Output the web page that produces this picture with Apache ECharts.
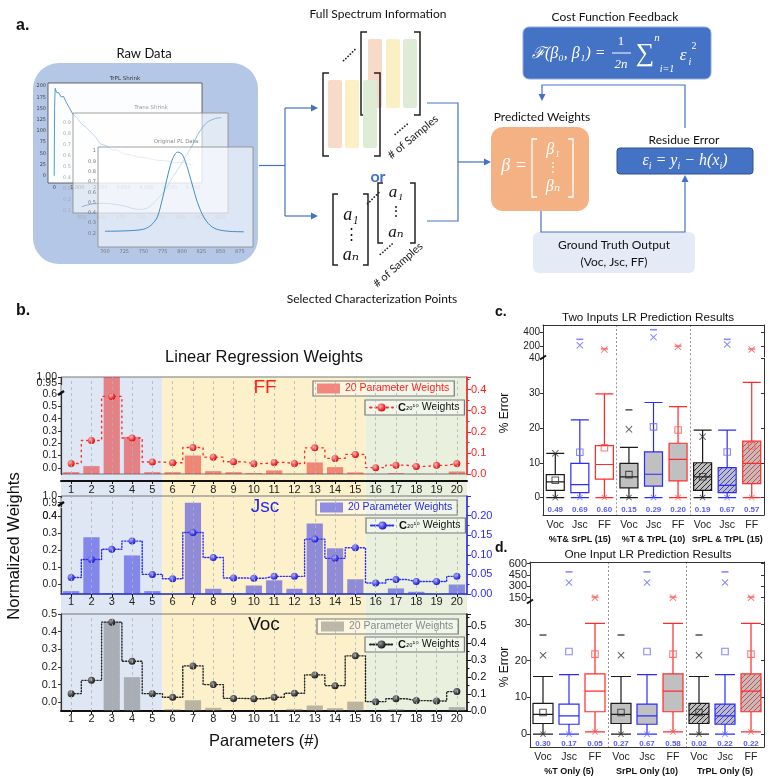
<!DOCTYPE html>
<html>
<head>
<meta charset="utf-8">
<script src="https://cdn.jsdelivr.net/npm/echarts@6.0.0/dist/echarts.min.js"></script>
<style>
html,body{margin:0;padding:0;background:#ffffff;}
#chart{width:770px;height:784px;}
</style>
</head>
<body>
<div id="chart"></div>
<script>
// ================= DATA =================
// ---- panel b : linear regression weights ----
const params = ['1','2','3','4','5','6','7','8','9','10','11','12','13','14','15','16','17','18','19','20'];
const ffBars  = [-0.035, 0.014, 1.000, 0.252, -0.035, -0.035, 0.100, -0.027, -0.035, -0.043, -0.021, -0.049, 0.044, 0.006, -0.037, -0.050, -0.043, -0.049, -0.050, -0.030];
const ffDots  = [0.050, 0.159, 0.368, 0.171, 0.057, 0.053, 0.126, 0.080, 0.058, 0.049, 0.055, 0.050, 0.124, 0.074, 0.093, 0.030, 0.042, 0.036, 0.041, 0.050];
const jscBars = [-0.041, 0.277, -0.053, 0.170, -0.041, -0.058, 0.900, -0.027, -0.055, -0.008, 0.023, -0.027, 0.358, 0.212, 0.029, -0.058, -0.025, -0.045, -0.058, -0.002];
const jscDots = [0.042, 0.088, 0.114, 0.135, 0.050, 0.039, 0.157, 0.093, 0.041, 0.040, 0.045, 0.045, 0.140, 0.091, 0.118, 0.028, 0.037, 0.032, 0.032, 0.045];
const vocBars = [-0.050, -0.050, 0.458, 0.142, -0.050, -0.040, 0.011, -0.032, -0.050, -0.050, -0.050, -0.038, -0.019, -0.034, 0.003, -0.050, -0.040, -0.050, -0.050, -0.028];
const vocDots = [0.102, 0.180, 0.522, 0.292, 0.102, 0.081, 0.265, 0.155, 0.074, 0.072, 0.081, 0.104, 0.212, 0.149, 0.324, 0.055, 0.072, 0.061, 0.059, 0.114];
const ffLeftTicks  = [0, 0.1, 0.2, 0.3, 0.4, 0.5, 0.6, 0.95, 1.0];
const ffLabelsA    = [0, 0.1, 0.2, 0.3, 0.4, 0.5, 0.6, 1.0];
const ffLabelsB    = [0.95];
const jscLeftTicks = [0, 0.1, 0.2, 0.3, 0.4, 0.9, 1.0];
const jscLabelsA   = [0, 0.1, 0.2, 0.3, 0.4];
const jscLabelsB   = [0.9];
const jscLabelsC   = [1.0];
const jscNearBreak = 0.4;
const vocLeftTicks = [0, 0.1, 0.2, 0.3, 0.4, 0.5];

// ---- panels c / d : box plots of % error ----
const boxCats = ['Voc','Jsc','FF','Voc','Jsc','FF','Voc','Jsc','FF'];
const cGroups = ['%T& SrPL (15)', '%T & TrPL (10)', 'SrPL & TrPL (15)'];
const dGroups = ['%T Only (5)', 'SrPL Only (10)', 'TrPL Only (5)'];
// [min, Q1, median, Q3, max]
const cBoxes = [[0,2.1,4.5,6.6,12.7],[0,1.45,3.75,9.8,22.3],[0,5.3,9.5,14.9,29.8],
                [0,2.8,5.95,9.8,14.4],[0,3.3,6.7,13.1,27.3],[0,4.8,10.95,15.6,26.1],
                [0,2.1,5.95,10.0,19.4],[0,1.45,3.5,8.6,19.4],[0,4.0,9.8,16.2,33.1]];
const cMeans = [5.0, 13.0, 14.3, 6.6, 20.3, 19.4, 6.0, 13.1, 14.9];
const cCross = [12.7, 213, 150, 19.6, 330, 190, 17.5, 225, 150];
const cDash  = [null, 300, 160, 25.2, 440, 200, null, 300, 158];
const cP     = ['0.49','0.69','0.60','0.15','0.29','0.20','0.19','0.67','0.57'];
const cUpperTicks = [200, 400];
const cLowerTicks = [0, 10, 20, 30, 40];

const dBoxes = [[0,2.9,5.4,8.4,15.7],[0,2.7,5.0,8.2,16.2],[0.6,6.1,11.7,16.4,30.2],
                [0,2.9,5.4,8.4,15.7],[0,2.7,5.0,8.2,16.2],[0.6,6.1,11.7,16.4,30.2],
                [0,2.9,5.4,8.4,15.7],[0,2.7,5.0,8.2,16.2],[0.6,6.1,11.7,16.4,30.2]];
const dMeans = [5.9, 22.5, 21.8, 5.9, 22.5, 21.8, 5.9, 22.5, 21.8];
const dCross = [21.5, 350, 150, 21.5, 350, 150, 21.5, 350, 150];
const dDash  = [27.0, 490, 158, 27.0, 490, 158, 27.0, 490, 158];
const dP     = ['0.30','0.17','0.05','0.27','0.67','0.58','0.02','0.22','0.22'];
const dUpperTicks = [150, 300, 450, 600];
const dLowerTicks = [0, 10, 20, 30];

// ---- panel a : raw data thumbnails ----
const trplT = [0, 15, 40, 100, 200, 300, 400, 500, 650, 800, 1000, 1200, 1400, 1600, 1800, 2000, 2250, 2500, 2750, 3000, 3300, 3600, 4000, 4400, 4800, 5200, 5600, 6000];
const trplV = [0, 150, 195, 186, 185, 176, 177, 166, 152, 138, 128, 115, 107, 97, 86, 71, 67, 58, 57, 49, 47, 42, 40, 35, 34, 29, 30, 24];
const transW = [550, 596, 646, 697, 739, 781, 823, 857, 882, 903];
const transV = [0.139, 0.169, 0.154, 0.115, 0.199, 0.41, 0.65, 0.86, 0.927, 0.942];
const plW = [700, 730, 750, 760, 768, 775, 782, 788, 794, 800, 806, 813, 820, 828, 836, 845, 860, 880];
const plV = [0.22, 0.225, 0.24, 0.28, 0.36, 0.55, 0.78, 0.93, 0.99, 0.97, 0.86, 0.68, 0.5, 0.36, 0.28, 0.24, 0.22, 0.215];
const trplTicksX = [0, 1000, 2000, 3000, 4000, 5000, 6000];
const trplTicksY = [0, 25, 50, 75, 100, 125, 150, 175, 200];
const transTicksX = [550, 600, 650, 700, 750, 800, 850, 900];
const transTicksY = [0.1, 0.2, 0.3, 0.4, 0.5, 0.6, 0.7, 0.8, 0.9];
const plTicksX = [700, 725, 750, 775, 800, 825, 850, 875];
const plTicksY = [0.2, 0.3, 0.4, 0.5, 0.6, 0.7, 0.8, 0.9, 1.0];

// ================= STYLE =================
const DF = "Lato, 'Open Sans', 'Noto Sans', sans-serif";
const SF = "'Liberation Sans', Arial, 'DejaVu Sans', sans-serif";
const MF = "'Liberation Serif', 'DejaVu Serif', serif";
const MP = "'DejaVu Sans', sans-serif";
const FF_MIN = -0.05, JSC_MIN = -0.058, VOC_MIN = -0.05;
const catColor  = ['#1a1a1a', '#2b2bff', '#ff2b2b'];
const markColor = ['#333333', '#6b6bff', '#ff5a5a'];
const XPATH = 'path://M0,1L1,0L5,4L9,0L10,1L6,5L10,9L9,10L5,6L1,10L0,9L4,5Z';

function ball(c1, c2) {
  return {type:'radial', x:0.35, y:0.35, r:0.7, colorStops:[{offset:0, color:c1}, {offset:1, color:c2}]};
}
function hatch(col) {
  const cv = document.createElement('canvas'); cv.width = 5; cv.height = 5;
  const g = cv.getContext('2d');
  g.fillStyle = '#bdbdbd'; g.fillRect(0, 0, 5, 5);
  g.strokeStyle = col; g.lineWidth = 0.9;
  g.beginPath(); g.moveTo(0,5); g.lineTo(5,0); g.moveTo(-1,1); g.lineTo(1,-1); g.moveTo(4,6); g.lineTo(6,4); g.stroke();
  return {image: cv, repeat: 'repeat'};
}
function barItem(base) {
  return function (p, api) {
    const i = api.value(0), v = api.value(1);
    const p1 = api.coord([i, v]), p0 = api.coord([i, base]);
    const w = api.size([1, 0])[0] * 0.8;
    return {type:'rect', shape:{x:p1[0]-w/2, y:Math.min(p0[1],p1[1]), width:w, height:Math.abs(p0[1]-p1[1])}, style: api.style()};
  };
}
function vlines() {
  return {silent:true, symbol:['none','none'], label:{show:false}, animation:false,
    lineStyle:{type:[3,3], color:'#b3b3b3', width:0.8}, data: params.map(p => ({xAxis: p}))};
}
function boxItems(boxes) {
  return boxes.map((b, i) => {
    const c = catColor[i % 3], grp = Math.floor(i / 3);
    const fill = grp === 0 ? '#ffffff' : (grp === 1 ? '#c0c0c0' : hatch(c));
    return {value: b, itemStyle: {color: fill, borderColor: c, borderWidth: 1.2}};
  });
}
function markItems(vals, lo, hi, kind) {
  const out = [];
  vals.forEach((v, i) => {
    if (v == null || v < lo || v > hi) return;
    const c = markColor[i % 3];
    const st = kind === 'mean' ? {color:'rgba(255,255,255,0)', borderColor:c, borderWidth:1.1} : {color:c};
    out.push({value:[i, v], itemStyle: st});
  });
  return out;
}

// ---- axes helpers ----
function leftAxis(grid, min, max, ticks, labels, fmt, extra, fs) {
  return Object.assign({gridIndex:grid, type:'value', min:min, max:max,
    axisLine:{show:true, onZero:false, lineStyle:{color:'#333', width:1.2}},
    axisTick:{show:true, length:3, customValues:ticks, lineStyle:{color:'#333'}},
    axisLabel:{customValues:labels, formatter:fmt, fontSize:fs || 11, color:'#222', margin:4, fontFamily:SF,
      hideOverlap:false, showMaxLabel:true, showMinLabel:true},
    splitLine:{show:false}}, extra || {});
}
// label-only overlay axis (same scale as the main left axis)
function labelAxis(grid, min, max, labels, fmt, extra, fs) {
  return Object.assign({gridIndex:grid, type:'value', min:min, max:max, position:'left',
    axisLine:{show:false, onZero:false}, axisTick:{show:false},
    axisLabel:{customValues:labels, formatter:fmt, fontSize:fs || 11, color:'#222', margin:4, fontFamily:SF, showMaxLabel:true, showMinLabel:true},
    splitLine:{show:false}}, extra || {});
}
function rightAxis(grid, max, interval, color, fmt) {
  return {gridIndex:grid, type:'value', position:'right', min:0, max:max, interval:interval,
    axisLine:{show:true, onZero:false, lineStyle:{color:color, width:1.5}},
    axisTick:{show:true, length:4, lineStyle:{color:color}},
    minorTick:{show:true, splitNumber:2, length:2.5, lineStyle:{color:color}},
    axisLabel:{formatter:fmt, fontSize:11, color:color, margin:4, showMaxLabel:false, fontFamily:SF},
    splitLine:{show:false}, minorSplitLine:{show:false}};
}
function catAxisB(grid, lineColor, lineW, offset, margin) {
  return {gridIndex:grid, type:'category', data:params, boundaryGap:true, offset:offset,
    axisLine:{show:true, onZero:false, lineStyle:{color:lineColor, width:lineW}},
    axisTick:{show:true, alignWithLabel:true, length:3, lineStyle:{color:'#111'}},
    axisLabel:{fontSize:11, color:'#222', margin:margin, interval:0, fontFamily:SF},
    splitLine:{show:false}};
}
const sepLine = {show:true, interval:(i) => i === 3 || i === 6, lineStyle:{type:[2,2], color:'#8a8a8a', width:0.9}};
function boxXAxis(grid, groups, withLabels) {
  const ax = {gridIndex:grid, type:'category', data:boxCats, boundaryGap:true,
    position: withLabels ? 'bottom' : 'top',
    axisLine:{show:true, onZero:false, lineStyle:{color:'#333', width:1}},
    axisTick:{show:false}, splitLine:sepLine};
  if (withLabels) {
    ax.axisLabel = {interval:0, fontSize:10.5, color:'#222', margin:4, lineHeight:13, fontFamily:SF,
      formatter:(v, i) => (i % 3 === 1) ? v + '\n{g|' + groups[(i - 1) / 3] + '}' : v,
      rich:{g:{fontWeight:'bold', fontSize:9, lineHeight:15, color:'#111', fontFamily:SF}}};
  } else {
    ax.axisLabel = {show:false};
  }
  return ax;
}
function boxYAxis(grid, min, max, ticks, right, size) {
  return {gridIndex:grid, type:'value', min:min, max:max, position: right ? 'right' : 'left',
    axisLine:{show:true, onZero:false, lineStyle:{color:'#333', width:1}},
    axisTick:{show:true, inside:!!right, length:3, customValues:ticks, lineStyle:{color:'#333'}},
    axisLabel:{show:!right, customValues:ticks, fontSize:size, color:'#222', margin:3, fontFamily:SF, showMaxLabel:true},
    splitLine:{show:false}};
}
function miniX(grid, min, max, ticks, col, z) {
  return {gridIndex:grid, type:'value', min:min, max:max, z:z, axisLine:{show:false, onZero:false}, axisTick:{show:false},
    axisLabel:{customValues:ticks, fontSize:5, color:col, margin:2, fontFamily:MP}, splitLine:{show:false}};
}
function miniY(grid, min, max, ticks, col, z) {
  return {gridIndex:grid, type:'value', min:min, max:max, z:z, axisLine:{show:false, onZero:false}, axisTick:{show:false},
    axisLabel:{customValues:ticks, fontSize:5, color:col, margin:2, fontFamily:MP}, splitLine:{show:false}};
}
function zip(a, b) { return a.map((v, i) => [v, b[i]]); }

// ================= GRAPHIC (diagram, labels, bands) =================
const G = [];
function T(x, y, text, o) {
  o = o || {};
  const st = {text:text, fill:o.color || '#111', fontSize:o.size || 12, fontFamily:o.font || DF,
    fontWeight:o.weight || 'normal', fontStyle:o.italic ? 'italic' : 'normal',
    align:o.align || 'center', verticalAlign:'middle'};
  if (o.rich) st.rich = o.rich;
  G.push({type:'text', x:x, y:y, z:(o.z != null ? o.z : 40), rotation:o.rot || 0, silent:true, style:st});
}
function R(x, y, w, h, fill, o) {
  o = o || {};
  G.push({type:'rect', z:(o.z != null ? o.z : 5), silent:true, shape:{x:x, y:y, width:w, height:h, r:o.r || 0},
    style:{fill:fill, stroke:o.stroke || null, lineWidth:o.lw || 0}});
}
function PL(pts, col, w, z) {
  G.push({type:'polyline', z:(z != null ? z : 40), silent:true, shape:{points:pts}, style:{stroke:col, lineWidth:w || 1.2, fill:null}});
}
function AH(x, y, dir, col) {
  let p;
  if (dir === 'r') p = [[x,y],[x-7,y-3.5],[x-7,y+3.5]];
  else if (dir === 'd') p = [[x,y],[x-3.5,y-7],[x+3.5,y-7]];
  else p = [[x,y],[x-3.5,y+7],[x+3.5,y+7]];
  G.push({type:'polygon', z:41, silent:true, shape:{points:p}, style:{fill:col}});
}
const LB = '#4472c4';

// panel labels
T(16, 26, 'a.', {align:'left', weight:'bold', size:16, font:SF});
T(16, 311, 'b.', {align:'left', weight:'bold', size:16, font:SF});
T(495, 312, 'c.', {align:'left', weight:'bold', size:14, font:SF});
T(495, 548, 'd.', {align:'left', weight:'bold', size:14, font:SF});

// raw data block
R(33, 63, 225, 201, '#b4c7e7', {r:26, z:-2});
T(144, 54, 'Raw Data', {size:13});
T(125, 79, 'TrPL Shrink', {size:5.5, color:'#333', font:MP});
T(151, 108, 'Trans Shrink', {size:5.5, color:'#9a9a9a', font:MP});
T(176, 142, 'Original PL Data', {size:5.5, color:'#888', font:MP});

// arrows from raw data
PL([[259,165.5],[285,165.5]], LB);
PL([[285,108],[285,216]], LB);
PL([[285,108],[312,108]], LB); AH(318, 108, 'r', LB);
PL([[285,216],[312,216]], LB); AH(318, 216, 'r', LB);

// full spectrum matrices (back then front)
PL([[367,32],[361,32],[361,115],[367,115]], '#222', 1.5, 30);
PL([[414,32],[420,32],[420,115],[414,115]], '#222', 1.5, 30);
R(368, 39, 14, 69, '#f8dac8', {r:2, z:31});
R(386, 39, 14, 69, '#fbefc4', {r:2, z:31});
R(403, 39, 14, 69, '#deecd5', {r:2, z:31});
R(328, 80, 14, 68, '#f8dac8', {r:2, z:33});
R(345, 80, 14, 68, '#fbefc4', {r:2, z:33});
R(363, 80, 14, 68, '#deecd5', {r:2, z:33});
PL([[329,73],[323,73],[323,156],[329,156]], '#222', 1.5, 34);
PL([[374,73],[380,73],[380,156],[374,156]], '#222', 1.5, 34);
T(349, 55, '······', {size:12, rot:Math.PI/4, color:'#222'});
T(401, 129, '······', {size:12, rot:Math.PI*0.22, color:'#222'});
T(413, 137, '# of Samples', {size:11, rot:Math.PI*0.22, color:'#222'});
T(378, 14, 'Full Spectrum Information', {size:12});
T(378, 177, 'or', {size:16, weight:'bold', color:LB});

// selected characterization vectors
PL([[338,194],[333,194],[333,265],[338,265]], '#222', 1.5);
PL([[363,194],[368,194],[368,265],[363,265]], '#222', 1.5);
T(351, 215, 'a₁', {size:18, italic:true, font:MF});
T(351, 235, '⋮', {size:15, font:MF});
T(351, 255, 'aₙ', {size:18, italic:true, font:MF});
PL([[383,183],[378,183],[378,243],[383,243]], '#222', 1.5);
PL([[410,183],[415,183],[415,243],[410,243]], '#222', 1.5);
T(396, 193, 'a₁', {size:17, italic:true, font:MF});
T(396, 212, '⋮', {size:14, font:MF});
T(396, 233, 'aₙ', {size:17, italic:true, font:MF});
T(373, 198, '······', {size:12, rot:Math.PI/4, color:'#222'});
T(386, 249, '······', {size:12, rot:Math.PI*0.23, color:'#222'});
T(398, 265, '# of Samples', {size:11, rot:Math.PI*0.23, color:'#222'});
T(372, 299, 'Selected Characterization Points', {size:12});

// lines to predicted weights
PL([[427,103],[458,103],[458,221],[427,221]], LB);
PL([[458,162],[484,162]], LB); AH(491, 162, 'r', LB);

// cost function box
T(615, 17, 'Cost Function Feedback', {size:12});
R(523, 27, 188, 52, LB, {r:6, stroke:'#8eaadb', lw:1, z:20});
T(532, 54, 'ℱ(β₀, β₁) =', {size:16, italic:true, font:MF, color:'#fff', align:'left'});
T(621, 42, '1', {size:13, font:MF, color:'#fff'});
PL([[612,53],[631,53]], '#fff', 1);
T(621, 65, '2n', {size:13, font:MF, color:'#fff', italic:true});
T(645, 54, '∑', {size:26, font:MF, color:'#fff'});
T(657, 38, 'n', {size:11, font:MF, color:'#fff', italic:true});
T(667, 69, 'i=1', {size:10, font:MF, color:'#fff', italic:true});
T(683, 56, 'ε', {size:17, font:MF, color:'#fff', italic:true});
T(690, 62, 'i', {size:10, font:MF, color:'#fff', italic:true});
T(694, 46, '2', {size:10, font:MF, color:'#fff'});

// feedback loop
PL([[685,128],[685,85],[542,85],[542,94]], LB); AH(542, 101, 'd', LB);

// predicted weights
T(542, 117, 'Predicted Weights', {size:12});
R(491, 127, 98, 84, '#f4b183', {r:12, z:20});
T(514, 166, 'β =', {size:18, italic:true, font:MF, color:'#fff'});
PL([[537,139],[532,139],[532,197],[537,197]], '#fff', 1.3);
PL([[568,139],[573,139],[573,197],[568,197]], '#fff', 1.3);
T(553, 150, 'β₁', {size:16, italic:true, font:MF, color:'#fff'});
T(553, 168, '⋮', {size:14, font:MF, color:'#fff'});
T(553, 187, 'βₙ', {size:16, italic:true, font:MF, color:'#fff'});

// residue error
T(684, 140, 'Residue Error', {size:12});
R(617, 148, 136, 26, LB, {r:3, z:20, stroke:'#2f528f', lw:1});
T(685, 161, '{a|ε}{s|i}{a| = y}{s|i}{a| − h(x}{s|i}{a|)}', {size:16, font:MF, color:'#fff',
  rich:{a:{fontSize:16, fontFamily:MF, fontStyle:'italic', fill:'#fff', color:'#fff', lineHeight:20},
        s:{fontSize:10, fontFamily:MF, fontStyle:'italic', fill:'#fff', color:'#fff', lineHeight:20, verticalAlign:'bottom'}}});

// ground truth
PL([[541,211],[541,232],[685,232],[685,182]], LB); AH(685, 175, 'u', LB);
R(533, 232, 162, 41, '#e4ebf6', {r:6, z:20});
T(614, 245, 'Ground Truth Output', {size:12});
T(614, 262, '(Voc, Jsc, FF)', {size:12});

// panel b background bands and texts
R(61, 377, 101.5, 334, '#dfe7f4', {z:-2});
R(162.5, 377, 203, 334, '#fdf1cc', {z:-2});
R(365.5, 377, 101.5, 334, '#e9f1de', {z:-2});
T(264, 357, 'Linear Regression Weights', {size:16.5, font:SF});
T(264, 741, 'Parameters (#)', {size:16.5, font:SF});
T(14, 546, 'Normalized Weights', {size:16.5, font:SF, rot:Math.PI/2});
T(265, 388, 'FF', {size:19, font:SF, color:'#ff2020'});
T(265, 507, 'Jsc', {size:19, font:SF, color:'#2a2ae0'});
T(264, 625, 'Voc', {size:19, font:SF, color:'#111'});
// axis break marks
[[61,393],[61,504]].forEach(p => G.push({type:'line', z:45, silent:true, shape:{x1:p[0]-3, y1:p[1]+2, x2:p[0]+3, y2:p[1]-2}, style:{stroke:'#111', lineWidth:2.5}}));
[[543,357.5],[530,601.5]].forEach(p => G.push({type:'line', z:45, silent:true, shape:{x1:p[0]-3, y1:p[1]+2, x2:p[0]+3, y2:p[1]-2}, style:{stroke:'#111', lineWidth:2}}));

// panels c / d texts
T(648, 318, 'Two Inputs LR Prediction Results', {size:11.7, font:SF});
T(648, 555, 'One Input LR Prediction Results', {size:11.7, font:SF});
T(505, 413, '% Error', {size:12, font:SF, rot:Math.PI/2});
T(505, 667, '% Error', {size:12, font:SF, rot:Math.PI/2});

// ================= LEGENDS =================
function leg(name, left, top, color, kind) {
  const o = {data:[{name:name, icon: kind === 'bar' ? 'rect' : undefined}], left:left, top:top, orient:'horizontal',
    itemWidth:23, itemHeight:10, padding:[2,5,2,4], selectedMode:false,
    borderColor:'#7a7a7a', borderWidth:1.2, backgroundColor:'rgba(255,255,255,0.35)',
    textStyle:{fontFamily:SF, fontSize:10.5, color:color,
      rich:{b:{fontWeight:'bold', fontSize:11, color:'#111', fontFamily:SF}, s:{fontSize:8, color:'#111', fontFamily:"'DejaVu Sans', sans-serif"}}}};
  o.formatter = kind === 'bar' ? () => '20 Parameter Weights' : () => '{b|C}{s|₂₀¹⁰} Weights';
  return o;
}

// ================= OPTION =================
const brk = {show:false, itemStyle:{opacity:0, borderWidth:0}};
const ffBreaks = {breaks:[{start:0.62, end:0.94, gap:'7.4%'}], breakArea:brk, breakLabelLayout:{moveOverlap:false}};
const jscBreaks = {breaks:[{start:0.45, end:0.88, gap:'2%'}, {start:0.905, end:0.995, gap:'5.1%'}], breakArea:brk, breakLabelLayout:{moveOverlap:false}};
const ffFmt = v => v >= 0.9 ? v.toFixed(2) : v.toFixed(1);
const f1 = v => v.toFixed(1);
const option = {
  animation:false,
  backgroundColor:'#ffffff',
  textStyle:{fontFamily:SF},
  graphic:{elements:G},
  legend:[
    leg('ff_bar', 313, 381, '#ff2020', 'bar'),
    leg('ff_dot', 365, 400, '#111', 'dot'),
    leg('jsc_bar', 316, 500, '#2a2ae0', 'bar'),
    leg('jsc_dot', 366, 518, '#111', 'dot'),
    leg('voc_bar', 317, 619, '#8a8a8a', 'bar'),
    leg('voc_dot', 365, 637, '#111', 'dot')
  ],
  grid:[
    {left:61, top:377, width:406, height:97, show:true, borderColor:'#777', borderWidth:1, backgroundColor:'rgba(0,0,0,0)'},
    {left:61, top:496, width:406, height:98, show:true, borderColor:'#777', borderWidth:1, backgroundColor:'rgba(0,0,0,0)'},
    {left:61, top:614, width:406, height:97, show:true, borderColor:'#777', borderWidth:1, backgroundColor:'rgba(0,0,0,0)'},
    {left:543, top:325, width:221, height:31.7},
    {left:543, top:358.3, width:221, height:156.7},
    {left:530, top:562, width:234, height:39},
    {left:530, top:602, width:234, height:145},
    {left:48, top:83, width:154, height:100, show:true, z:1, backgroundColor:'rgba(255,255,255,0.96)', borderColor:'#444', borderWidth:0.8},
    {left:73, top:113, width:155, height:100, show:true, z:3, backgroundColor:'rgba(255,255,255,0.6)', borderColor:'#888', borderWidth:0.8},
    {left:98, top:147, width:155, height:100, show:true, z:5, backgroundColor:'rgba(255,255,255,0.55)', borderColor:'#888', borderWidth:0.8}
  ],
  xAxis:[
    catAxisB(0, '#111', 2, 7, 3),
    catAxisB(1, '#2d3ec8', 1.5, 0, 2),
    catAxisB(2, '#111', 2, 0, 2),
    boxXAxis(3, cGroups, false),
    boxXAxis(4, cGroups, true),
    boxXAxis(5, dGroups, false),
    boxXAxis(6, dGroups, true),
    miniX(7, -270, 6400, trplTicksX, '#444', 1),
    miniX(8, 528, 920, transTicksX, '#aaa', 3),
    miniX(9, 691, 892, plTicksX, '#777', 5)
  ],
  yAxis:[
    leftAxis(0, FF_MIN, 1.0, ffLeftTicks, ffLabelsA, ffFmt, ffBreaks, 10.5),
    rightAxis(0, 0.46, 0.1, '#ff2020', f1),
    leftAxis(1, JSC_MIN, 1.0, jscLeftTicks, jscLabelsA, f1, jscBreaks, 10.5),
    rightAxis(1, 0.25, 0.05, '#2a2aff', v => v.toFixed(2)),
    leftAxis(2, VOC_MIN, 0.5, vocLeftTicks, vocLeftTicks, f1),
    rightAxis(2, 0.57, 0.1, '#111', f1),
    boxYAxis(3, 46, 509, cUpperTicks, false, 10),
    boxYAxis(3, 46, 509, cUpperTicks, true, 10),
    boxYAxis(4, -5, 40, cLowerTicks, false, 10),
    boxYAxis(4, -5, 40, cLowerTicks, true, 10),
    boxYAxis(5, 107, 620, dUpperTicks, false, 11),
    boxYAxis(5, 107, 620, dUpperTicks, true, 11),
    boxYAxis(6, -3.5, 36, dLowerTicks, false, 11),
    boxYAxis(6, -3.5, 36, dLowerTicks, true, 11),
    miniY(7, -16, 207, trplTicksY, '#444', 1),
    miniY(8, 0.082, 0.984, transTicksY, '#aaa', 3),
    miniY(9, 0.067, 1.04, plTicksY, '#777', 5),
    labelAxis(0, FF_MIN, 1.0, ffLabelsB, ffFmt, ffBreaks, 10.5),
    labelAxis(1, JSC_MIN, 1.0, jscLabelsB, f1, jscBreaks, 10.5),
    labelAxis(1, JSC_MIN, 1.0, jscLabelsC, f1, jscBreaks, 10.5)
  ],
  series:[]
};

// ---- panel b series ----
const bSets = [
  {bars:ffBars, dots:ffDots, base:FF_MIN, x:0, yl:0, yr:1, key:'ff', bar:'rgba(232,45,45,0.55)', line:'#ff2a2a', dash:[1.5,4], ball:ball('#ffb0b0','#e00000')},
  {bars:jscBars, dots:jscDots, base:JSC_MIN, x:1, yl:2, yr:3, key:'jsc', bar:'rgba(55,55,225,0.55)', line:'#2a2aff', dash:[1.2,1.8], ball:ball('#a8a8ff','#1010d0')},
  {bars:vocBars, dots:vocDots, base:VOC_MIN, x:2, yl:4, yr:5, key:'voc', bar:'rgba(95,95,95,0.42)', line:'#222', dash:[1.2,1.8], ball:ball('#9a9a9a','#111111')}
];
bSets.forEach(s => {
  option.series.push({type:'custom', name:s.key + '_bar', coordinateSystem:'cartesian2d', xAxisIndex:s.x, yAxisIndex:s.yl,
    data:s.bars.map((v, i) => [i, v]), encode:{x:0, y:1}, renderItem:barItem(s.base), itemStyle:{color:s.bar}, z:2,
    markLine:vlines()});
  option.series.push({type:'line', name:s.key + '_dot', xAxisIndex:s.x, yAxisIndex:s.yr, data:s.dots, step:'middle',
    symbol:'circle', symbolSize:7, showSymbol:true, z:4,
    lineStyle:{color:s.line, width:1.4, type:s.dash, cap:'round'}, itemStyle:{color:s.ball, borderWidth:0}});
});

// ---- panels c / d series ----
function boxSeries(xU, yU, xL, yL, boxes, means, cross, dash, pv, lowMax, pY, bw) {
  const mins = boxes.map(b => b[0]);
  option.series.push({type:'boxplot', xAxisIndex:xL, yAxisIndex:yL, data:boxItems(boxes), boxWidth:[bw, bw], z:3});
  option.series.push({type:'scatter', xAxisIndex:xL, yAxisIndex:yL, symbol:'rect', symbolSize:6.5, data:markItems(means, -10, lowMax, 'mean'), z:5});
  option.series.push({type:'scatter', xAxisIndex:xL, yAxisIndex:yL, symbol:XPATH, symbolSize:7, data:markItems(cross, -10, lowMax, 'x'), z:5});
  option.series.push({type:'scatter', xAxisIndex:xL, yAxisIndex:yL, symbol:XPATH, symbolSize:6, data:markItems(mins, -10, lowMax, 'x'), z:5});
  option.series.push({type:'scatter', xAxisIndex:xL, yAxisIndex:yL, symbol:'rect', symbolSize:[7,1.6], data:markItems(dash, -10, lowMax, 'dash'), z:5});
  option.series.push({type:'scatter', xAxisIndex:xU, yAxisIndex:yU, symbol:XPATH, symbolSize:7, data:markItems(cross, lowMax, 1e6, 'x'), z:5});
  option.series.push({type:'scatter', xAxisIndex:xU, yAxisIndex:yU, symbol:'rect', symbolSize:[7,1.6], data:markItems(dash, lowMax, 1e6, 'dash'), z:5});
  option.series.push({type:'scatter', xAxisIndex:xL, yAxisIndex:yL, symbolSize:1, itemStyle:{color:'rgba(0,0,0,0)'},
    data:pv.map((_, i) => [i, pY]), z:6,
    label:{show:true, position:'inside', formatter:p => pv[p.dataIndex], color:'#2f2fff', fontWeight:'bold', fontSize:8, fontFamily:SF}});
}
boxSeries(3, 6, 4, 8, cBoxes, cMeans, cCross, cDash, cP, 40, -3.6, 18);
boxSeries(5, 10, 6, 12, dBoxes, dMeans, dCross, dDash, dP, 36, -2.5, 20);

// ---- panel a thumbnails ----
option.series.push({type:'line', xAxisIndex:7, yAxisIndex:14, data:zip(trplT, trplV), showSymbol:false, z:2, lineStyle:{color:'#2f7fc1', width:0.8}});
option.series.push({type:'line', xAxisIndex:8, yAxisIndex:15, data:zip(transW, transV), showSymbol:false, smooth:true, z:4, lineStyle:{color:'#6fa6d6', width:0.8}});
option.series.push({type:'line', xAxisIndex:9, yAxisIndex:16, data:zip(plW, plV), showSymbol:false, smooth:0.3, z:6, lineStyle:{color:'#2f7fc1', width:0.9}});

const chart = echarts.init(document.getElementById('chart'), null, {renderer:'canvas', width:770, height:784});
chart.setOption(option);

// the Jsc "0.4" tick label next to the axis break is suppressed by the break label layout;
// place it at the position given by the axis scale itself
const yNear = chart.convertToPixel({yAxisIndex: 2}, jscNearBreak);
if (isFinite(yNear)) {
  G.push({type:'text', x:57, y:yNear, z:40, silent:true,
    style:{text:jscNearBreak.toFixed(1), fill:'#222', fontSize:10.5, fontFamily:SF, align:'right', verticalAlign:'middle'}});
  chart.setOption({graphic:{elements:G}});
}
</script>
</body>
</html>
